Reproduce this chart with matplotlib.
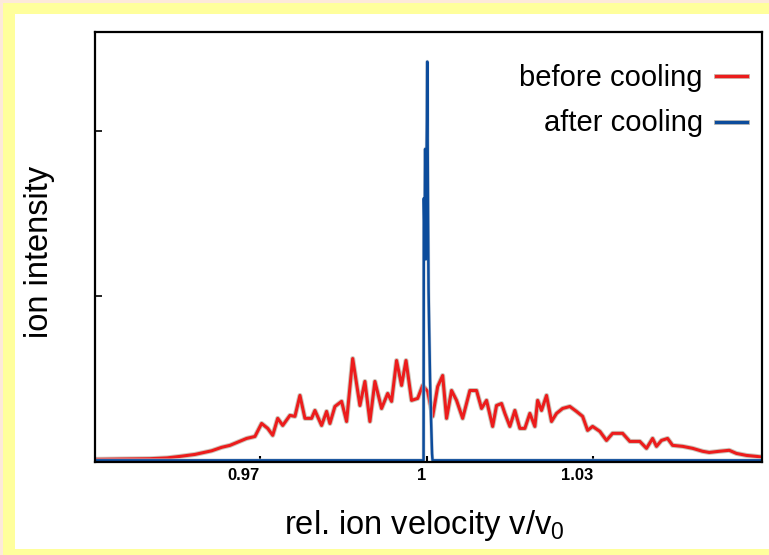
import matplotlib
matplotlib.use("Agg")
import matplotlib.pyplot as plt
from matplotlib.patches import Rectangle
from matplotlib.lines import Line2D
import matplotlib.patheffects as pe

plt.rcParams['font.family'] = ['Liberation Sans', 'DejaVu Sans']
plt.rcParams['mathtext.default'] = 'regular'

# ---- data ----
v_before = [
    0.9403, 0.9448, 0.9502, 0.9533, 0.9556, 0.9583, 0.9613, 0.9631, 0.9646, 0.9676,
    0.9691, 0.9703, 0.9714, 0.9723, 0.9732, 0.9741, 0.9754, 0.9763, 0.9772, 0.9781,
    0.9793, 0.9799, 0.9811, 0.9820, 0.9826, 0.9835, 0.9847, 0.9856, 0.9867, 0.9880,
    0.9889, 0.9898, 0.9907, 0.9919, 0.9930, 0.9937, 0.9946, 0.9955, 0.9963, 0.9973,
    0.9984, 0.9993, 1.0002, 1.0011, 1.0020, 1.0029, 1.0036, 1.0045, 1.0054, 1.0065,
    1.0078, 1.0090, 1.0099, 1.0108, 1.0119, 1.0126, 1.0135, 1.0141, 1.0150, 1.0159,
    1.0168, 1.0177, 1.0186, 1.0195, 1.0200, 1.0207, 1.0216, 1.0225, 1.0234, 1.0245,
    1.0258, 1.0270, 1.0281, 1.0290, 1.0299, 1.0312, 1.0324, 1.0335, 1.0353, 1.0366,
    1.0384, 1.0396, 1.0407, 1.0414, 1.0423, 1.0434, 1.0443, 1.0461, 1.0479, 1.0497,
    1.0509, 1.0527, 1.0545, 1.0558, 1.0576, 1.0594, 1.0604]
I_before = [
    0.006, 0.008, 0.010, 0.015, 0.024, 0.036, 0.058, 0.079, 0.091, 0.133,
    0.145, 0.224, 0.194, 0.152, 0.255, 0.212, 0.273, 0.267, 0.394, 0.255,
    0.255, 0.303, 0.212, 0.297, 0.224, 0.327, 0.358, 0.236, 0.618, 0.333,
    0.479, 0.236, 0.479, 0.315, 0.406, 0.358, 0.606, 0.455, 0.606, 0.364,
    0.376, 0.455, 0.418, 0.267, 0.448, 0.515, 0.255, 0.424, 0.364, 0.255,
    0.424, 0.424, 0.315, 0.364, 0.206, 0.333, 0.345, 0.285, 0.206, 0.303,
    0.194, 0.194, 0.285, 0.206, 0.364, 0.303, 0.394, 0.236, 0.285, 0.315,
    0.327, 0.297, 0.267, 0.182, 0.206, 0.176, 0.121, 0.164, 0.164, 0.115,
    0.115, 0.073, 0.133, 0.085, 0.121, 0.133, 0.091, 0.085, 0.073, 0.055,
    0.048, 0.055, 0.061, 0.042, 0.030, 0.024, 0.020]

v_after = [0.9403, 0.99946, 0.99951, 0.99964, 0.99975, 0.99986, 0.99996, 1.00007,
           1.00013, 1.00018, 1.00027, 1.00036, 1.00047, 1.00063, 1.00081, 1.00099,
           1.00108, 1.0604]
I_after = [0, 0, 1.59, 1.35, 1.89, 1.22, 1.71, 2.07,
           2.42, 2.04, 1.47, 1.04, 0.80, 0.49, 0.25, 0.04,
           0, 0]

x_ticks = [0.97, 1.0, 1.03]
x_tick_labels = ['0.97', '1', '1.03']
y_ticks = [1, 2]
series_labels = ['before cooling', 'after cooling']
x_label = 'rel. ion velocity v/v$_0$'
y_label = 'ion intensity'

RED = '#ec1c1c'
BLUE = '#0c4c9c'
HALO = '#cdc6bc'

# ---- figure ----
W, H = 769, 555
fig = plt.figure(figsize=(W / 100, H / 100), dpi=100)
fig.patch.set_facecolor('#ffff9c')
# frame decorations
fig.patches.append(Rectangle((15 / W, 6 / H), 1 - 15 / W, (549 - 14) / H,
                             transform=fig.transFigure, facecolor='white',
                             edgecolor='none', zorder=-10))
fig.patches.append(Rectangle((0, 1 - 3 / H), 1, 3 / H, transform=fig.transFigure,
                             facecolor='#fde9da', edgecolor='none', zorder=-10))
fig.patches.append(Rectangle((0, 0), 3 / W, 1, transform=fig.transFigure,
                             facecolor='#fde9da', edgecolor='none', zorder=-10))

ax = fig.add_axes([95 / W, (H - 462) / H, (762 - 95) / W, (462 - 32) / H])
ax.set_zorder(2)
ax.set_facecolor('white')

halo = [pe.Stroke(linewidth=3.6, foreground=HALO, joinstyle='round'), pe.Normal()]
ax.plot(v_before, I_before, color=RED, lw=2.2, solid_joinstyle='round',
        path_effects=halo, zorder=3)
ax.plot(v_after, I_after, color=BLUE, lw=1.8, solid_joinstyle='round',
        path_effects=[pe.Stroke(linewidth=2.6, foreground='#c3cdd9',
                                joinstyle='round'), pe.Normal()],
        zorder=4)

ax.set_xlim(0.9403, 1.0604)
ax.set_ylim(-0.01, 2.6)

ax.set_xticks(x_ticks)
ax.set_xticklabels(x_tick_labels, fontweight='bold', fontsize=12)
for lab in ax.get_xticklabels():
    lab.set_horizontalalignment('right')
ax.set_yticks(y_ticks)
ax.set_yticklabels([])
ax.tick_params(axis='x', direction='in', length=4, width=1.5, pad=4)
ax.tick_params(axis='y', direction='in', length=5, width=1.2)
for s in ax.spines.values():
    s.set_linewidth(1.6)
    s.set_color('black')
    s.set_zorder(5)

# legend (text then handle, right aligned)
legend_rows = [(series_labels[0], RED, 0.8744, 0.8977),
               (series_labels[1], BLUE, 0.7698, 0.7907)]
for text, col, ty, ly in legend_rows:
    ax.text(0.9115, ty, text, transform=ax.transAxes, ha='right', va='baseline',
            fontsize=21, color='black')
    ax.add_line(Line2D([0.931, 0.9775], [ly, ly], transform=ax.transAxes,
                       color=col, lw=2.4, path_effects=halo, clip_on=False))

fig.text(424 / W, (H - 534) / H, x_label, ha='center', va='baseline',
         fontsize=23.5)
fig.text(40 / W, (H - 252) / H, y_label, ha='center', va='center',
         rotation=90, fontsize=23.5)

fig.savefig('out.png', dpi=100, facecolor=fig.get_facecolor())
